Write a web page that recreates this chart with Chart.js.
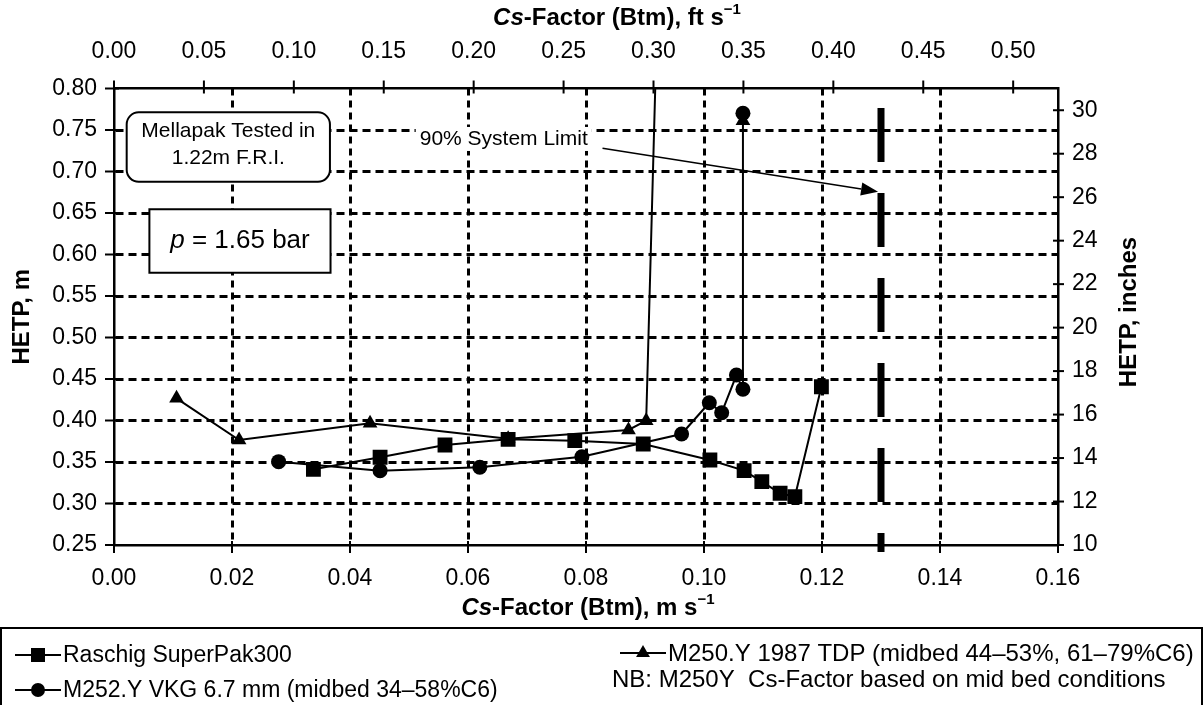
<!DOCTYPE html>
<html><head><meta charset="utf-8">
<script src="https://cdn.jsdelivr.net/npm/chart.js@4.4.1/dist/chart.umd.min.js"></script>
<style>html,body{margin:0;padding:0;background:#fff;}#wrap{width:1203px;height:705px;position:relative;}</style>
</head><body><div id="wrap"><canvas id="c" width="1203" height="705"></canvas></div>
<script>
// ---- tick labels ----
const xTicksM  = [0.00,0.02,0.04,0.06,0.08,0.10,0.12,0.14,0.16];
const xTicksFt = [0.00,0.05,0.10,0.15,0.20,0.25,0.30,0.35,0.40,0.45,0.50];
const yTicksM  = [0.25,0.30,0.35,0.40,0.45,0.50,0.55,0.60,0.65,0.70,0.75,0.80];
const yTicksIn = [10,12,14,16,18,20,22,24,26,28,30];

// ---- series ----
const superPakX = [0.0338,0.0451,0.0561,0.0668,0.0781,0.0897,0.1010,0.1068,0.1098,0.1129,0.1154,0.1199];
const superPakY = [0.3412,0.3557,0.3705,0.3773,0.3757,0.3717,0.3524,0.3396,0.3263,0.3123,0.3082,0.4407];
const vkgX = [0.0279,0.0451,0.0620,0.0793,0.0962,0.1009,0.1030,0.1055,0.1066,0.1066];
const vkgY = [0.3504,0.3396,0.3436,0.3564,0.3837,0.4214,0.4094,0.4548,0.4376,0.7701];
const tdpX = [0.0106,0.0212,0.0434,0.0668,0.0872,0.0902,0.0925,null,0.1066];
const tdpY = [0.4267,0.3765,0.3966,0.3780,0.3886,0.3998,1.0000,null,0.7610];
const limitX = [0.13,0.13];
const limitY = [0.7765,0.2416];

const seriesNames = ['Raschig SuperPak300','M252.Y VKG 6.7 mm (midbed 34\u201358%C6)','M250.Y 1987 TDP (midbed 44\u201353%, 61\u201379%C6)'];
const noteText = 'NB: M250Y  Cs-Factor based on mid bed conditions';

const FF = "'Liberation Sans', Arial, Helvetica, sans-serif";
const pts = (xs, ys) => xs.map((x,i)=>({x:x, y:ys[i]}));

// annotation positions in data units (m s-1, m)
const noteBox1 = {x0:0.00215, x1:0.0366, y0:0.7713, y1:0.6877};
const noteBox2 = {x0:0.0060, x1:0.0367, y0:0.6545, y1:0.5781};
const limitLabel = {x:0.0803, y:0.7392};
const limitArrow = {x0:0.0828, y0:0.7280, x1:0.1295, y1:0.6757};

function near(a,b){return Math.abs(a-b)<1e-9;}
function gridWidth(edges){return c=>{const v=c.tick?c.tick.value:null; if(v===null) return 0; for(const e of edges){if(near(v,e)) return 0;} return 3;};}

function drawRich(ctx, parts, cx, cy){
  let w=0; parts.forEach(p=>{ctx.font=p.f; w+=ctx.measureText(p.t).width;});
  let x=cx-w/2; ctx.textBaseline='middle'; ctx.textAlign='left';
  parts.forEach(p=>{ctx.font=p.f; ctx.fillText(p.t, x, cy+(p.dy||0)); x+=ctx.measureText(p.t).width;});
}
function marker(ctx, style, x, y){
  ctx.beginPath();
  if(style==='rect'){ctx.rect(x-7,y-7,14,14);}
  else if(style==='circle'){ctx.arc(x,y,7,0,Math.PI*2);}
  else {const r=8; ctx.moveTo(x,y-r); ctx.lineTo(x+r*0.866,y+r*0.5); ctx.lineTo(x-r*0.866,y+r*0.5); ctx.closePath();}
  ctx.fill();
}

const decor = {
  id:'decor',
  afterDraw(chart){
    const ctx=chart.ctx, a=chart.chartArea, s=chart.scales;
    ctx.save();
    ctx.strokeStyle='#000'; ctx.fillStyle='#000'; ctx.lineWidth=2; ctx.setLineDash([]);
    // crossing tick marks
    s.x.ticks.forEach(t=>{const p=s.x.getPixelForValue(t.value); ctx.beginPath(); ctx.moveTo(p,a.bottom-4); ctx.lineTo(p,a.bottom+8); ctx.stroke();});
    s.x2.ticks.forEach(t=>{const p=s.x2.getPixelForValue(t.value); ctx.beginPath(); ctx.moveTo(p,a.top-8); ctx.lineTo(p,a.top+5); ctx.stroke();});
    s.y.ticks.forEach(t=>{const p=s.y.getPixelForValue(t.value); ctx.beginPath(); ctx.moveTo(a.left-9,p); ctx.lineTo(a.left+5,p); ctx.stroke();});
    s.y2.ticks.forEach(t=>{const p=s.y2.getPixelForValue(t.value); ctx.beginPath(); ctx.moveTo(a.right-5,p); ctx.lineTo(a.right+6,p); ctx.stroke();});

    // axis titles
    const B="bold 24px "+FF, BI="italic bold 24px "+FF, SUP="bold 15px "+FF;
    drawRich(ctx,[{t:'Cs',f:BI},{t:'-Factor (Btm), ft s',f:B},{t:'\u22121',f:SUP,dy:-8}], 617, 18);
    drawRich(ctx,[{t:'Cs',f:BI},{t:'-Factor (Btm), m s',f:B},{t:'\u22121',f:SUP,dy:-8}], 588, 608);
    ctx.save(); ctx.translate(22,(a.top+a.bottom)/2); ctx.rotate(-Math.PI/2);
    drawRich(ctx,[{t:'HETP, m',f:B}],0,0); ctx.restore();
    ctx.save(); ctx.translate(1129,312); ctx.rotate(-Math.PI/2);
    drawRich(ctx,[{t:'HETP, inches',f:B}],0,0); ctx.restore();

    // note boxes
    const X=v=>s.x.getPixelForValue(v), Y=v=>s.y.getPixelForValue(v);
    ctx.lineWidth=2;
    let bx0=X(noteBox1.x0), bx1=X(noteBox1.x1), by0=Y(noteBox1.y0), by1=Y(noteBox1.y1);
    ctx.beginPath(); ctx.roundRect(bx0,by0,bx1-bx0,by1-by0,12); ctx.fillStyle='#fff'; ctx.fill(); ctx.stroke();
    ctx.fillStyle='#000';
    const R="21px "+FF;
    drawRich(ctx,[{t:'Mellapak Tested in',f:R}],(bx0+bx1)/2, by0+(by1-by0)*0.27);
    drawRich(ctx,[{t:'1.22m F.R.I.',f:R}],(bx0+bx1)/2, by0+(by1-by0)*0.66);
    bx0=X(noteBox2.x0); bx1=X(noteBox2.x1); by0=Y(noteBox2.y0); by1=Y(noteBox2.y1);
    ctx.beginPath(); ctx.rect(bx0,by0,bx1-bx0,by1-by0); ctx.fillStyle='#fff'; ctx.fill(); ctx.stroke();
    ctx.fillStyle='#000';
    drawRich(ctx,[{t:'p',f:"italic 26px "+FF},{t:' = 1.65 bar',f:"26px "+FF}],(bx0+bx1)/2,(by0+by1)/2);

    // limit label (white backed) + arrow
    ctx.font="21px "+FF; ctx.textAlign='right'; ctx.textBaseline='middle';
    const lx=X(limitLabel.x), ly=Y(limitLabel.y), lw=ctx.measureText('90% System Limit').width;
    ctx.fillStyle='#fff'; ctx.fillRect(lx-lw-4, ly-12, lw+8, 24);
    ctx.fillStyle='#000'; ctx.fillText('90% System Limit', lx, ly);
    const ax0=X(limitArrow.x0), ay0=Y(limitArrow.y0), ax1=X(limitArrow.x1), ay1=Y(limitArrow.y1);
    const ang=Math.atan2(ay1-ay0,ax1-ax0), hl=17, hw=6.5;
    const bxp=ax1-hl*Math.cos(ang), byp=ay1-hl*Math.sin(ang);
    ctx.lineWidth=1.6; ctx.beginPath(); ctx.moveTo(ax0,ay0); ctx.lineTo(bxp,byp); ctx.stroke();
    ctx.beginPath(); ctx.moveTo(ax1,ay1);
    ctx.lineTo(bxp+hw*Math.sin(ang), byp-hw*Math.cos(ang));
    ctx.lineTo(bxp-hw*Math.sin(ang), byp+hw*Math.cos(ang)); ctx.closePath(); ctx.fill();

    // legend
    ctx.lineWidth=2; ctx.strokeRect(1,628,1201,80);
    const items=[{st:'rect',x:15,y:655,t:seriesNames[0],f:23},{st:'circle',x:15,y:690,t:seriesNames[1],f:23},{st:'triangle',x:620,y:653,t:seriesNames[2],f:24}];
    items.forEach(it=>{
      ctx.beginPath(); ctx.moveTo(it.x,it.y); ctx.lineTo(it.x+46,it.y); ctx.stroke();
      marker(ctx,it.st,it.x+23,it.y);
      ctx.font=it.f+"px "+FF; ctx.textAlign='left'; ctx.textBaseline='middle'; ctx.fillText(it.t,it.x+48,it.y+1);
    });
    ctx.font="24px "+FF; ctx.fillText(noteText,612,680);
    ctx.restore();
  }
};

const tickFont={family:FF,size:23};
new Chart(document.getElementById('c'),{
  type:'scatter',
  data:{datasets:[
    {label:seriesNames[0],data:pts(superPakX,superPakY),showLine:true,borderColor:'#000',backgroundColor:'#000',borderWidth:2,pointStyle:'rect',pointRadius:10.5,pointBorderWidth:0,xAxisID:'x',yAxisID:'y'},
    {label:seriesNames[1],data:pts(vkgX,vkgY),showLine:true,borderColor:'#000',backgroundColor:'#000',borderWidth:2,pointStyle:'circle',pointRadius:7.5,pointBorderWidth:0,xAxisID:'x',yAxisID:'y'},
    {label:seriesNames[2],data:pts(tdpX,tdpY),showLine:true,spanGaps:false,borderColor:'#000',backgroundColor:'#000',borderWidth:2,pointStyle:'triangle',pointRadius:8.5,pointBorderWidth:0,xAxisID:'x',yAxisID:'y'},
    {label:'90% System Limit',data:pts(limitX,limitY),showLine:true,borderColor:'#000',borderWidth:7,borderDash:[54,31],pointRadius:0,clip:false,xAxisID:'x',yAxisID:'y'}
  ]},
  options:{
    responsive:false, animation:false, devicePixelRatio:1,
    layout:{padding:0},
    plugins:{legend:{display:false},tooltip:{enabled:false},title:{display:false}},
    events:[],
    scales:{
      x:{type:'linear',position:'bottom',min:0,max:0.16,
        afterBuildTicks:s=>{s.ticks=xTicksM.map(v=>({value:v}));},
        afterFit:s=>{s.height=160;},
        ticks:{font:tickFont,color:'#000',padding:20,maxRotation:0,autoSkip:false,callback:v=>Number(v).toFixed(2)},
        grid:{drawTicks:false,color:'#000',lineWidth:gridWidth([0,0.16])},
        border:{display:true,color:'#000',width:2.5,dash:[7,5]}},
      x2:{type:'linear',position:'top',min:0,max:0.16*3.2808,
        afterBuildTicks:s=>{s.ticks=xTicksFt.map(v=>({value:v}));},
        afterFit:s=>{s.height=88.5;},
        ticks:{font:tickFont,color:'#000',padding:23,maxRotation:0,autoSkip:false,callback:v=>Number(v).toFixed(2)},
        grid:{display:false,drawTicks:false},
        border:{display:true,color:'#000',width:2.5}},
      y:{type:'linear',position:'left',min:0.25,max:0.80,
        afterBuildTicks:s=>{s.ticks=yTicksM.map(v=>({value:v}));},
        afterFit:s=>{s.width=114;},
        ticks:{font:tickFont,color:'#000',padding:17,autoSkip:false,callback:v=>Number(v).toFixed(2)},
        grid:{drawTicks:false,color:'#000',lineWidth:gridWidth([0.25,0.80])},
        border:{display:true,color:'#000',width:2.5,dash:[8,5]}},
      y2:{type:'linear',position:'right',min:10,max:31,
        afterBuildTicks:s=>{s.ticks=yTicksIn.map(v=>({value:v}));},
        afterFit:s=>{s.width=145;},
        ticks:{font:tickFont,color:'#000',padding:14,autoSkip:false,callback:v=>String(v)},
        grid:{display:false,drawTicks:false},
        border:{display:true,color:'#000',width:2.5}}
    }
  },
  plugins:[decor]
});
</script></body></html>
